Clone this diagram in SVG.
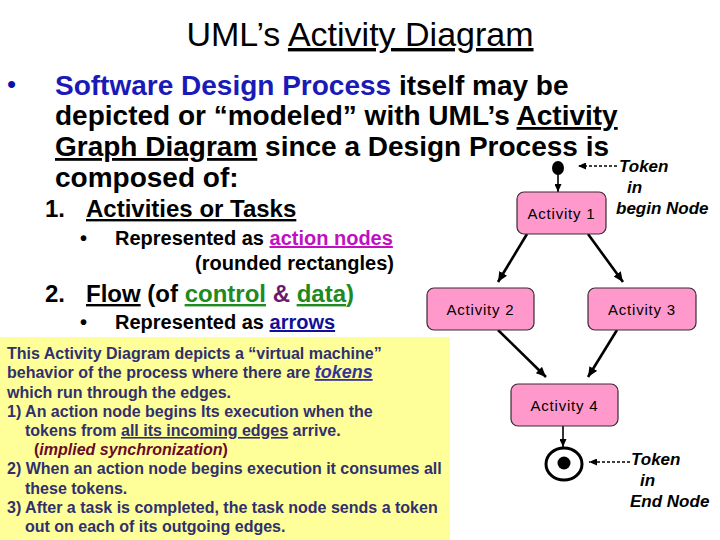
<svg xmlns="http://www.w3.org/2000/svg" width="720" height="540" viewBox="0 0 720 540">
<style>
text{font-family:"Liberation Sans",Arial,Helvetica,sans-serif}
.title{font-size:34px;fill:#000}
.l1{font-size:28px;font-weight:bold;fill:#000}
.l2{font-size:24px;font-weight:bold;fill:#000}
.l3{font-size:20px;font-weight:bold;fill:#000}
.u{text-decoration:underline}
.box{font-size:16px;font-weight:bold;fill:#30306e}
.act{font-size:15px;letter-spacing:0.8px;fill:#000;text-anchor:middle}
.note{font-size:17px;font-weight:bold;font-style:italic;fill:#000}
.node{fill:#ff99cc;stroke:#3a2a32;stroke-width:1.2}
.flow{stroke:#000;stroke-width:2.6;fill:none}
.thin{stroke:#000;stroke-width:1.6;fill:none}
.dash{stroke:#000;stroke-width:1.4;stroke-dasharray:3 2;fill:none}
</style>
<defs>
<marker id="ah" markerUnits="userSpaceOnUse" markerWidth="11" markerHeight="9" refX="10" refY="4.5" orient="auto">
<path d="M0,0 L10,4.5 L0,9 z" fill="#000"/>
</marker>
<marker id="ahs" markerUnits="userSpaceOnUse" markerWidth="9" markerHeight="7" refX="8" refY="3.5" orient="auto">
<path d="M0,0 L8,3.5 L0,7 z" fill="#000"/>
</marker>
</defs>
<rect width="720" height="540" fill="#fff"/>

<g id="title">
<text class="title" x="360" y="46" text-anchor="middle">UML’s <tspan class="u">Activity Diagram</tspan></text>
</g>

<g id="bullets">
<text x="7" y="93" style="font-size:26px;fill:#1010a8">•</text>
<text class="l1" x="55" y="95"><tspan style="fill:#1a1ab8">Software Design Process</tspan> itself may be</text>
<text class="l1" x="55" y="125">depicted or “modeled” with UML’s <tspan class="u">Activity</tspan></text>
<text class="l1" x="55" y="156"><tspan class="u">Graph Diagram</tspan> since a Design Process is</text>
<text class="l1" x="55" y="187">composed of:</text>
<text class="l2" x="45" y="217">1.</text>
<text class="l2 u" x="86" y="217">Activities or Tasks</text>
<text class="l3" x="80" y="245">•</text>
<text class="l3" x="115" y="245">Represented as <tspan class="u" style="fill:#c010c0">action nodes</tspan></text>
<text class="l3" x="394" y="270" text-anchor="end">(rounded rectangles)</text>
<text class="l2" x="45" y="302">2.</text>
<text class="l2" x="86" y="302"><tspan class="u">Flow</tspan> (of <tspan class="u" style="fill:#208a20">control</tspan><tspan style="fill:#6b1a6b"> &amp; </tspan><tspan class="u" style="fill:#208a20">data</tspan><tspan style="fill:#208a20">)</tspan></text>
<text class="l3" x="80" y="329">•</text>
<text class="l3" x="115" y="329">Represented as <tspan class="u" style="fill:#101098">arrows</tspan></text>
</g>

<g id="explanation">
<rect x="0" y="337" width="450" height="203" fill="#ffff99"/>
<text class="box" x="7" y="359">This Activity Diagram depicts a “virtual machine”</text>
<text class="box" x="7" y="378">behavior of the process where there are <tspan class="u" style="font-size:18px;font-style:italic;fill:#333399">tokens</tspan></text>
<text class="box" x="7" y="398">which run through the edges.</text>
<text class="box" x="7" y="417">1) An action node begins Its execution when the</text>
<text class="box" x="25" y="436">tokens from <tspan class="u">all its incoming edges</tspan> arrive.</text>
<text class="box" x="34" y="455" style="fill:#6a0a2a">(<tspan style="font-style:italic">implied synchronization</tspan>)</text>
<text class="box" x="7" y="474">2) When an action node begins execution it consumes all</text>
<text class="box" x="25" y="494">these tokens.</text>
<text class="box" x="7" y="513">3) After a task is completed, the task node sends a token</text>
<text class="box" x="25" y="532">out on each of its outgoing edges.</text>
</g>

<g id="connectors">
<line class="thin" x1="558" y1="174" x2="558" y2="192" marker-end="url(#ahs)"/>
<line class="flow" x1="527" y1="234" x2="498" y2="282" marker-end="url(#ah)"/>
<line class="flow" x1="588" y1="234" x2="623" y2="282" marker-end="url(#ah)"/>
<line class="flow" x1="498" y1="330" x2="546" y2="377" marker-end="url(#ah)"/>
<line class="flow" x1="617" y1="330" x2="588" y2="377" marker-end="url(#ah)"/>
<line class="thin" x1="563" y1="426" x2="563" y2="447" marker-end="url(#ahs)"/>
<line class="dash" x1="617" y1="166" x2="578" y2="166" marker-end="url(#ahs)"/>
<line class="dash" x1="630" y1="462" x2="589" y2="462" marker-end="url(#ahs)"/>
</g>

<g id="start">
<ellipse cx="558" cy="168" rx="6" ry="7" fill="#000"/>
</g>

<g id="act1">
<rect class="node" x="517" y="192" width="89" height="42" rx="7"/>
<text class="act" x="561.5" y="218.5">Activity 1</text>
</g>
<g id="act2">
<rect class="node" x="427" y="288" width="107" height="42" rx="7"/>
<text class="act" x="480.5" y="314.5">Activity 2</text>
</g>
<g id="act3">
<rect class="node" x="588" y="288" width="108" height="42" rx="7"/>
<text class="act" x="642" y="314.5">Activity 3</text>
</g>
<g id="act4">
<rect class="node" x="511" y="384" width="107" height="42" rx="7"/>
<text class="act" x="564.5" y="410.5">Activity 4</text>
</g>

<g id="end">
<ellipse cx="564" cy="464" rx="18" ry="16" fill="#fff" stroke="#000" stroke-width="3"/>
<circle cx="564" cy="463" r="6.5" fill="#000"/>
</g>

<g id="note-begin">
<text class="note" x="619" y="172">Token</text>
<text class="note" x="627" y="193">in</text>
<text class="note" x="616" y="214">begin Node</text>
</g>
<g id="note-end">
<text class="note" x="631" y="465">Token</text>
<text class="note" x="640" y="486">in</text>
<text class="note" x="630" y="507">End Node</text>
</g>
</svg>
